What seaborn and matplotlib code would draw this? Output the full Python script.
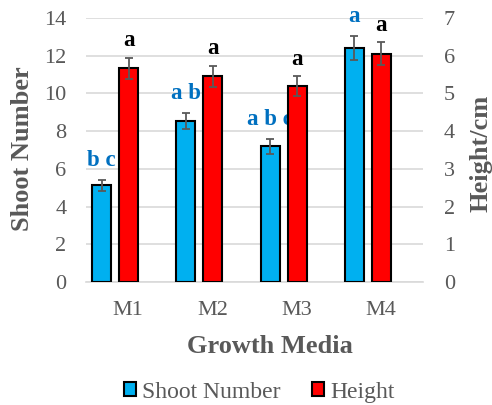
import numpy as np
import pandas as pd
import matplotlib
matplotlib.use("Agg")
import matplotlib.pyplot as plt
from matplotlib.patches import Patch
import seaborn as sns

# Data
media = ["M1", "M2", "M3", "M4"]
shoot_number = [5.13, 8.55, 7.2, 12.42]
shoot_err = [0.3, 0.42, 0.4, 0.64]
height_cm = [5.67, 5.46, 5.2, 6.05]
height_err = [0.28, 0.28, 0.26, 0.3]
shoot_letters = ["b c", "a b", "a b c", "a"]
height_letters = ["a", "a", "a", "a"]

BLUE = "#00B0F0"
RED = "#FF0000"
GRAY = "#595959"
GRID = "#D9D9D9"
LETTER_BLUE = "#0070C0"

sns.set_theme(style="white")
plt.rcParams["font.family"] = ["Liberation Serif", "DejaVu Serif"]

fig = plt.figure(figsize=(4.92, 4.05), dpi=100)
ax = fig.add_axes([0.1748, 0.3037, 0.6850, 0.6519])
ax2 = ax.twinx()

idx = np.arange(len(media))
shoot_pos = idx - 0.315
height_pos = idx + 0.006
bar_w = 0.225

df_s = pd.DataFrame({"pos": shoot_pos, "val": shoot_number})
df_h = pd.DataFrame({"pos": height_pos, "val": height_cm})

sns.barplot(data=df_s, x="pos", y="val", ax=ax, native_scale=True, width=bar_w,
            color=BLUE, saturation=1, errorbar=None, edgecolor="black",
            linewidth=1.5, zorder=3)
sns.barplot(data=df_h, x="pos", y="val", ax=ax2, native_scale=True, width=bar_w,
            color=RED, saturation=1, errorbar=None, edgecolor="black",
            linewidth=1.5, zorder=3)

ax.errorbar(shoot_pos, shoot_number, yerr=shoot_err, fmt="none", ecolor=GRAY,
            elinewidth=1.3, capsize=3, capthick=1.3, zorder=4)
ax2.errorbar(height_pos, height_cm, yerr=height_err, fmt="none", ecolor=GRAY,
             elinewidth=1.3, capsize=3, capthick=1.3, zorder=4)

# significance letters above the error bars
for x, y, e, t in zip(shoot_pos, shoot_number, shoot_err, shoot_letters):
    ax.annotate(t, (x, y + e), xytext=(0, 6.5), textcoords="offset points",
                ha="center", va="bottom", fontsize=16.5, fontweight="bold",
                color=LETTER_BLUE)
for x, y, e, t in zip(height_pos, height_cm, height_err, height_letters):
    ax2.annotate(t, (x, y + e), xytext=(0, 4.5), textcoords="offset points",
                 ha="center", va="bottom", fontsize=16.5, fontweight="bold",
                 color="black")

ax.set_ylim(0, 14)
ax.set_yticks(np.arange(0, 15, 2))
ax2.set_ylim(0, 7)
ax2.set_yticks(np.arange(0, 8, 1))
ax.set_xlim(-0.5, 3.5)
ax.set_xticks(idx)
ax.set_xticklabels(media)

ax.yaxis.grid(True, color=GRID, linewidth=1.2, zorder=0)
ax.set_axisbelow(True)
ax2.grid(False)

for a in (ax, ax2):
    for s in a.spines.values():
        s.set_visible(False)
    a.tick_params(axis="both", length=0, labelsize=16, labelcolor=GRAY)
ax.spines["bottom"].set_visible(True)
ax.spines["bottom"].set_color(GRID)
ax.spines["bottom"].set_linewidth(1.2)
ax.tick_params(axis="y", pad=14)
ax2.tick_params(axis="y", pad=15)
ax.tick_params(axis="x", pad=14)

ax.set_xlabel("Growth Media", fontsize=19, fontweight="bold", color=GRAY)
ax.set_ylabel("Shoot Number", fontsize=19, fontweight="bold", color=GRAY)
ax2.set_ylabel("Height/cm", fontsize=19, fontweight="bold", color=GRAY,
               rotation=90)
ax.xaxis.set_label_coords(0.546, -0.20)
ax.yaxis.set_label_coords(-0.154, 0.504)
ax2.yaxis.set_label_coords(1.139, 0.487)

handles = [Patch(facecolor=BLUE, edgecolor="black", linewidth=1.5, label="Shoot Number"),
           Patch(facecolor=RED, edgecolor="black", linewidth=1.5, label="Height")]
leg = fig.legend(handles=handles, loc="center", bbox_to_anchor=(0.527, 0.032),
                 ncol=2, frameon=False, fontsize=17, handlelength=0.5,
                 handleheight=0.5, handletextpad=0.25, columnspacing=1.35,
                 borderpad=0)
for t in leg.get_texts():
    t.set_color(GRAY)

fig.savefig("out.png", dpi=100)
